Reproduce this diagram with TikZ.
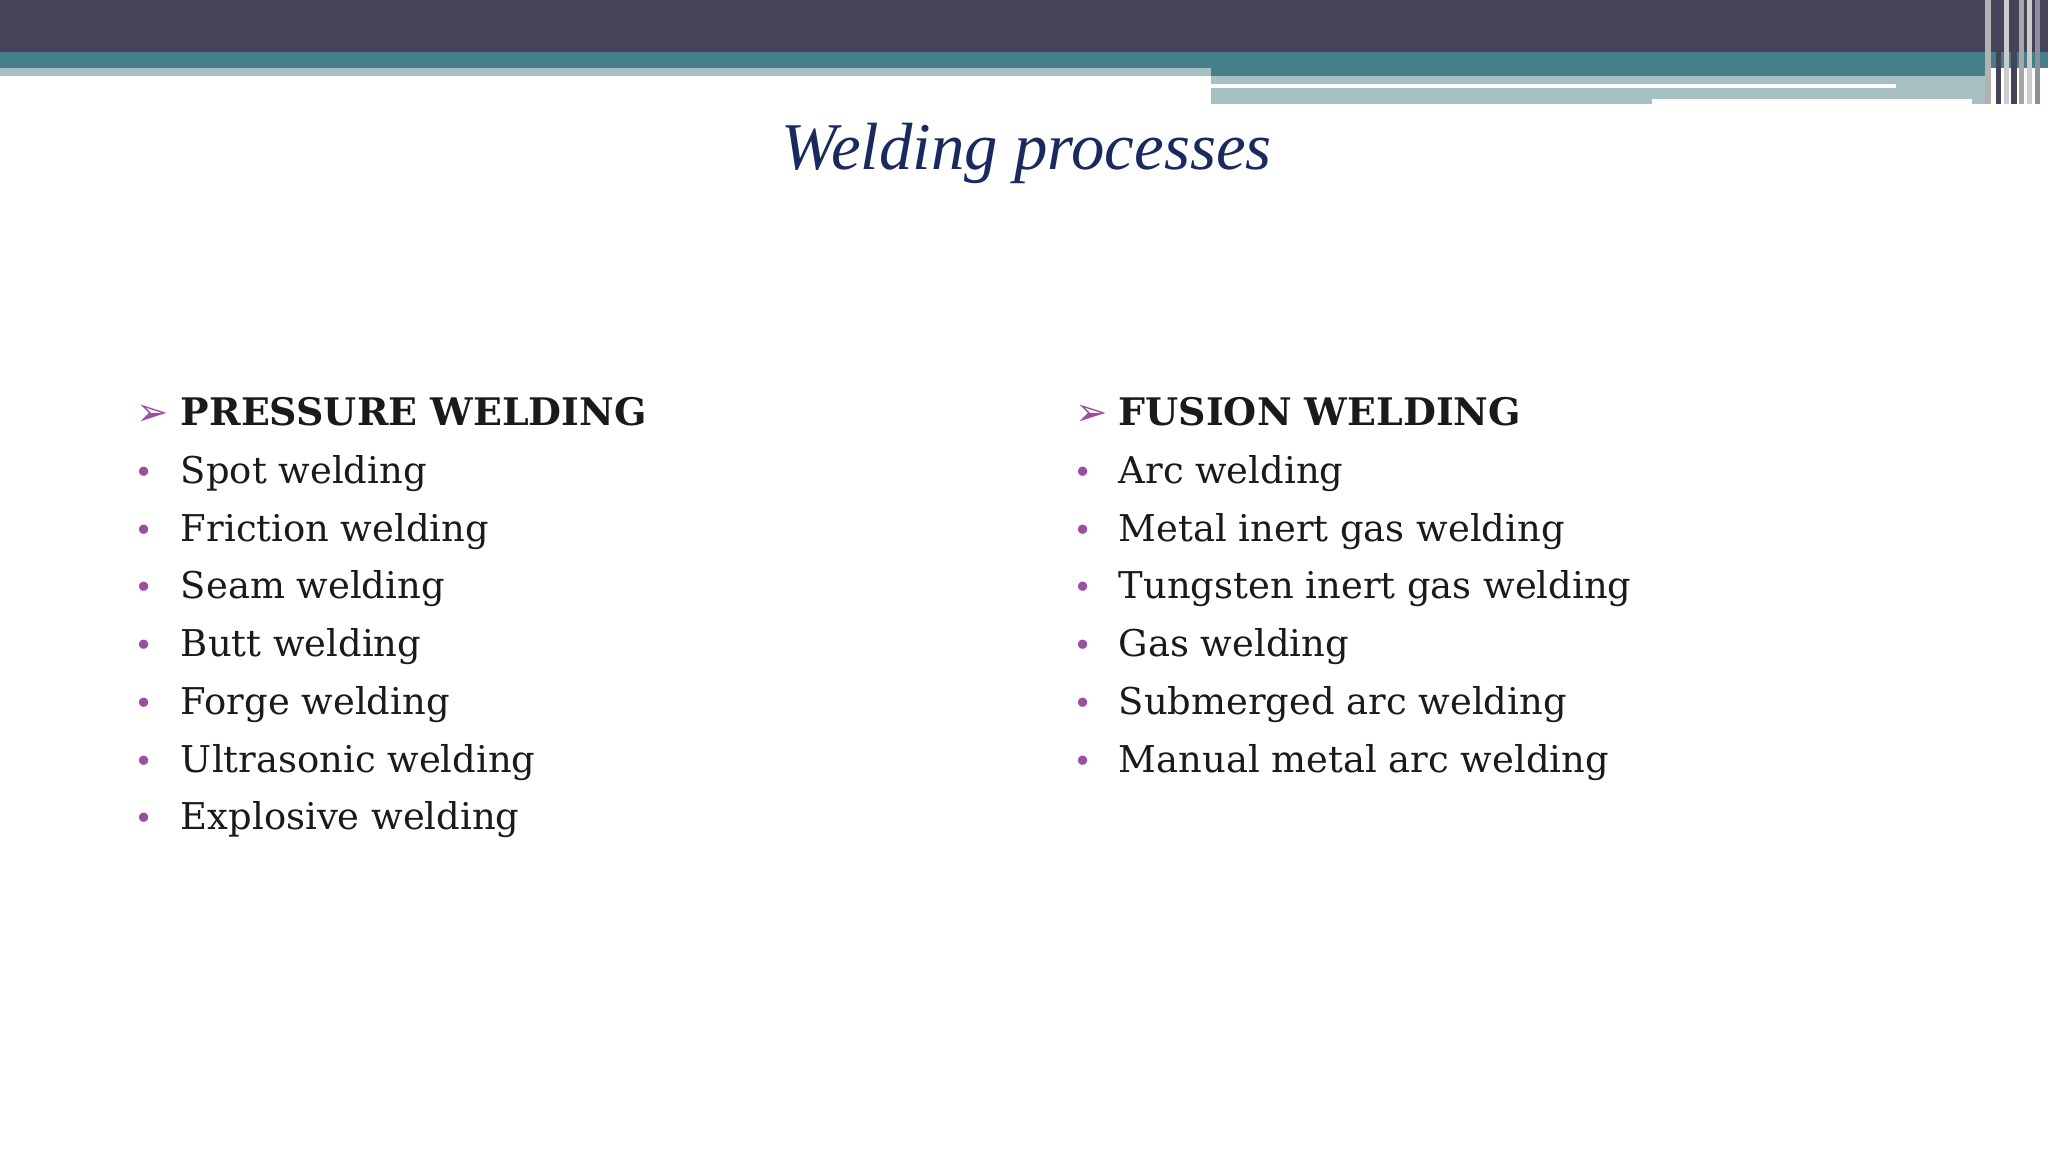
\documentclass[tikz,border=0pt]{standalone}
\usepackage{fontspec}
\setmainfont{DejaVu Serif}
\newfontfamily\ttl{Liberation Serif}
\newfontfamily\sym{DejaVu Sans}
\definecolor{dark}{HTML}{454358}
\definecolor{teal}{HTML}{45808A}
\definecolor{lite}{HTML}{A6C0C3}
\definecolor{bul}{HTML}{9B4F9E}
\definecolor{navy}{HTML}{1A2A5E}
\definecolor{txt}{HTML}{1A1A1A}
\begin{document}
\begin{tikzpicture}[x=0.013061cm,y=-0.013061cm,
  item/.style={anchor=base west,inner sep=0,font=\fontsize{10.5}{10.5}\selectfont,text=txt},
  head/.style={item,font=\fontsize{10.8}{10.8}\selectfont\bfseries},
  dot/.style={anchor=base,inner sep=0,text=bul,font=\fontsize{9}{9}\selectfont},
  arr/.style={anchor=base,inner sep=0,text=bul,font=\sym\fontsize{11}{11}\selectfont}]
\useasboundingbox (0,0) rectangle (1568,882);
\fill[white] (0,0) rectangle (1568,882);
\fill[dark] (0,0) rectangle (1568,40);
\fill[teal] (0,40) rectangle (1568,52);
\fill[lite] (0,52) rectangle (927,58);
\fill[teal] (927,52) rectangle (1520,58);
\fill[lite] (927,58) rectangle (1520,80);
\fill[white] (927,64) rectangle (1452,67);
\fill[white] (1265,76) rectangle (1510,80);
\foreach \x/\c in {1520/gray!60,1528/dark,1534/gray!40,1540/dark,1546/gray!70,1552/gray!40,1558/dark!60}
  \fill[\c] (\x,0) rectangle ++(4,80);
\node[anchor=base,text=navy,font=\ttl\itshape\fontsize{19}{19}\selectfont] (title) at (786,130) {Welding processes};
\node[arr] (a1) at (117,326) {➢};
\node[head] (h1) at (138,326) {PRESSURE WELDING};
\node[arr] (a2) at (836,326) {➢};
\node[head] (h2) at (856,326) {FUSION WELDING};
\foreach \t [count=\i] in {Spot welding,Friction welding,Seam welding,Butt welding,Forge welding,Ultrasonic welding,Explosive welding}{
  \node[dot] (ld\i) at (110,326+44.2*\i) {•};
  \node[item] (l\i) at (138,326+44.2*\i) {\t};}
\foreach \t [count=\i] in {Arc welding,Metal inert gas welding,Tungsten inert gas welding,Gas welding,Submerged arc welding,Manual metal arc welding}{
  \node[dot] (rd\i) at (829,326+44.2*\i) {•};
  \node[item] (r\i) at (856,326+44.2*\i) {\t};}
\end{tikzpicture}
\end{document}
